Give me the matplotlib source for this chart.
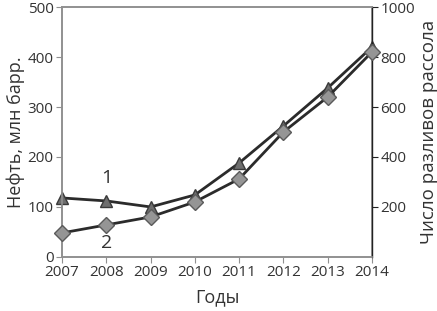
import numpy as np
import matplotlib.pyplot as plt

years = [2007, 2008, 2009, 2010, 2011, 2012, 2013, 2014]
oil = [118, 112, 100, 124, 188, 262, 338, 420]          # left axis, series 1
spills = [96, 128, 160, 220, 312, 500, 640, 820]       # right axis, series 2

plt.rcParams['font.family'] = ['Open Sans', 'DejaVu Sans']

fig = plt.figure(figsize=(4.37, 3.11), dpi=100)
ax = fig.add_axes([0.142, 0.174, 0.709, 0.803])
ax2 = ax.twinx()

ax.plot(years, oil, color="#2b2b2b", lw=2, marker="^", markersize=8,
        markerfacecolor="#6e6e6e", markeredgecolor="#3a3a3a", zorder=3, clip_on=False)
ax2.plot(years, spills, color="#2b2b2b", lw=2, marker="D", markersize=8,
         markerfacecolor="#959595", markeredgecolor="#5a5a5a", zorder=3, clip_on=False)

ax.set_xlim(2007, 2014)
ax.set_ylim(0, 500)
ax.set_yticks(np.arange(0, 501, 100))
ax2.set_ylim(0, 1000)
ax2.set_yticks([200, 400, 600, 800, 1000])
ax.set_xticks(years)

ax.text(2008, 158, "1", fontsize=14, ha="center", va="center", color="#333333")
ax.text(2008, 28, "2", fontsize=14, ha="center", va="center", color="#333333")

ax.set_xlabel("Годы", fontsize=13, color="#333333", labelpad=6)
ax.set_ylabel("Нефть, млн барр.", fontsize=13, color="#333333", labelpad=2)
ax2.set_ylabel("Число разливов рассола", fontsize=13.5, color="#333333", labelpad=4)

for a in (ax, ax2):
    for s in a.spines.values():
        s.set_color("#909090")
        s.set_linewidth(1.2)
    a.tick_params(labelsize=11, colors="#333333", length=4, pad=2)
ax2.spines["right"].set_color("#222222")
ax2.spines["right"].set_linewidth(1)
ax.tick_params(axis="both", color="#909090")
ax2.tick_params(axis="y", color="#222222")

fig.savefig("out.png", dpi=100)
